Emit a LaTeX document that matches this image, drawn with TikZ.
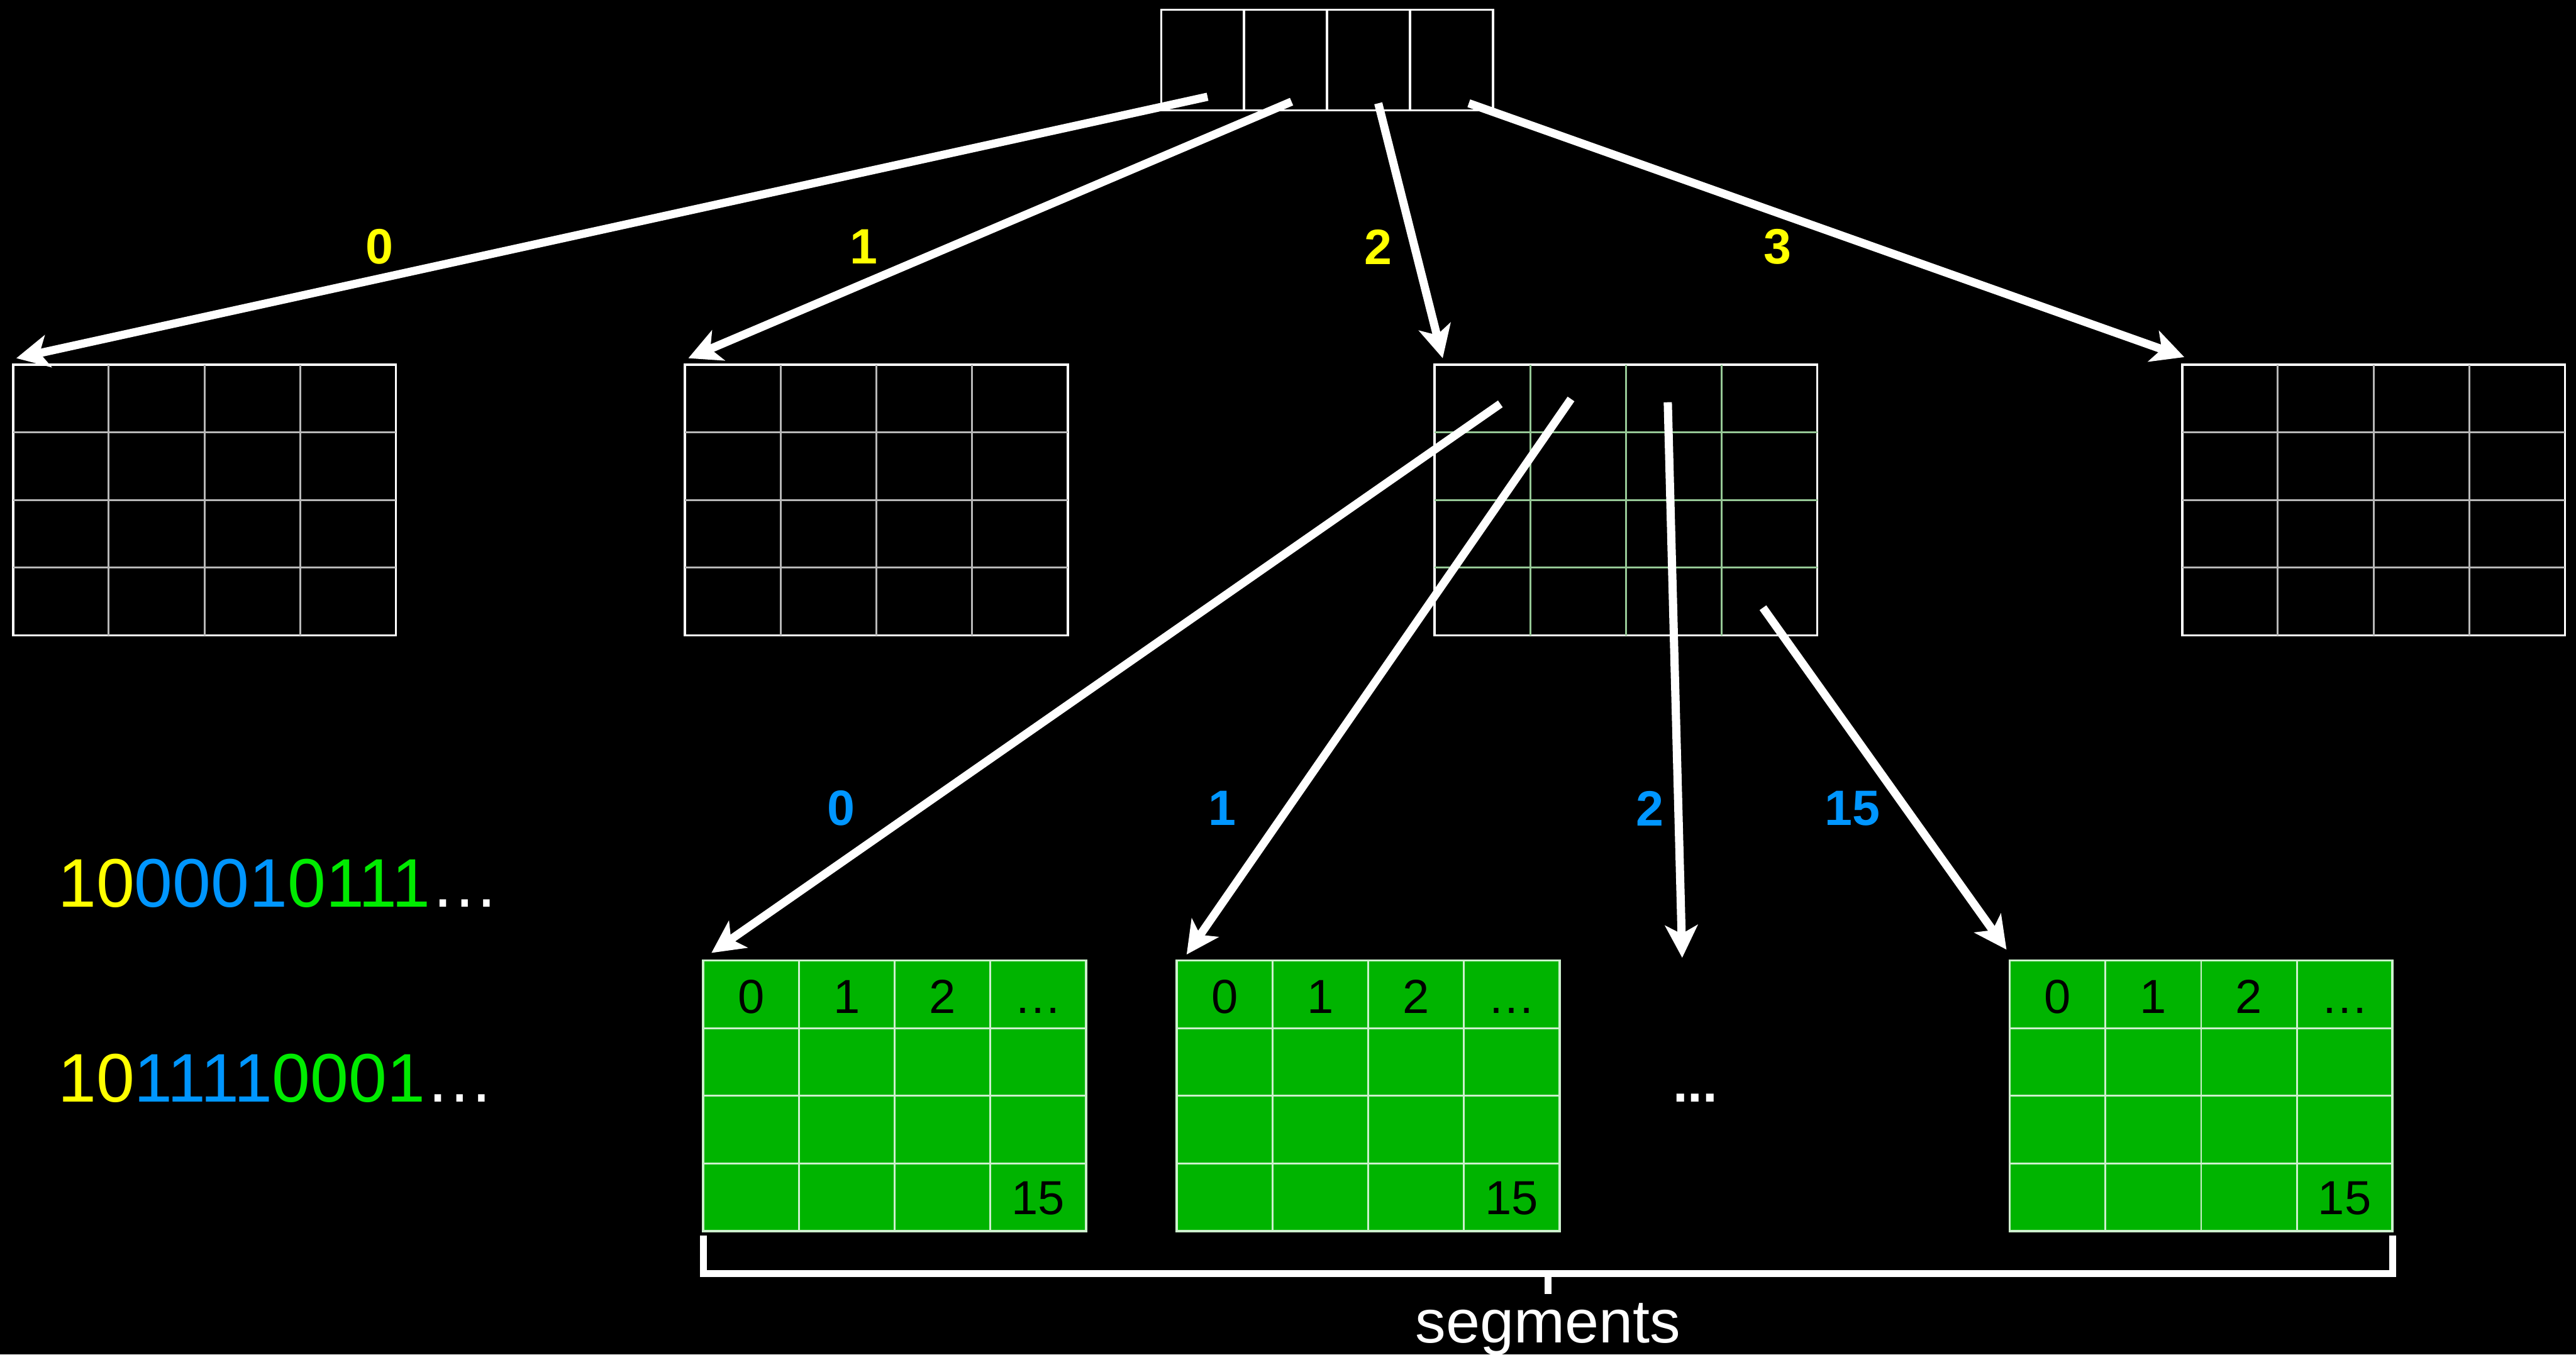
\documentclass[tikz,border=0pt]{standalone}
\usepackage{fontspec}
\setmainfont{Liberation Sans}
\usetikzlibrary{arrows.meta, positioning, calc}

\definecolor{keyyellow}{RGB}{255,255,0}
\definecolor{keyblue}{RGB}{0,150,255}
\definecolor{keygreen}{RGB}{0,235,0}
\definecolor{segfill}{RGB}{0,180,0}
\definecolor{segline}{RGB}{205,240,205}
\definecolor{dirline}{RGB}{150,200,150}

% inner lines of a 4x4 table node
\newcommand{\tablelines}[2]{%
  \foreach \i in {1,2,3} {
    \draw[#2] ($(#1.north west)!\i/4!(#1.north east)$) -- ($(#1.south west)!\i/4!(#1.south east)$);
    \draw[#2] ($(#1.north west)!\i/4!(#1.south west)$) -- ($(#1.north east)!\i/4!(#1.south east)$);
  }}

\begin{document}
\begin{tikzpicture}[node distance=1cm, >={Stealth[length=17pt,width=17pt,inset=4.5pt]}]
    \tikzstyle{cell} = [draw=white, line width=1.2pt, minimum width=1.525cm, minimum height=1.85cm, outer sep=0pt, inner sep=0pt]
    \tikzstyle{dirtable} = [draw=white, line width=1.2pt, minimum width=7.04cm, minimum height=4.98cm, outer sep=0pt, inner sep=0pt]
    \tikzstyle{segtable} = [dirtable, fill=segfill, draw=segline]
    \tikzstyle{line} = [draw=white, ->, line width=4.3pt]
    \tikzstyle{lvl1} = [text=keyyellow, font=\bfseries\fontsize{26}{30}\selectfont]
    \tikzstyle{lvl2} = [text=keyblue, font=\bfseries\fontsize{26}{30}\selectfont]
    \tikzstyle{celltext} = [anchor=base, font=\fontsize{25}{30}\selectfont]
    \tikzstyle{bits} = [anchor=base west, inner sep=0pt, font=\fontsize{36}{40}\selectfont]
    \tikzstyle{brace} = [draw=white, line width=3.7pt]

    \useasboundingbox (0,0) rectangle (47.38,-24.92);
    \fill[black] (0,0) rectangle (47.38,-24.92);

    % root directory
    \node [cell] (r0) at (22.12,-1.105) {};
    \node [cell, right=0pt of r0] (r1) {};
    \node [cell, right=0pt of r1] (r2) {};
    \node [cell, right=0pt of r2] (r3) {};

    % second level
    \node [dirtable, below=4.68cm of r0, xshift=-18.36cm] (gA) {};
    \node [dirtable, below=4.68cm of r0, xshift=-6.00cm] (gB) {};
    \node [dirtable, below=4.68cm of r3, xshift=3.21cm] (gC) {};
    \node [dirtable, below=4.68cm of r3, xshift=16.96cm] (gD) {};
    \tablelines{gA}{draw=white!72!black, line width=1pt}
    \tablelines{gB}{draw=white!72!black, line width=1pt}
    \tablelines{gC}{draw=dirline, line width=1pt}
    \tablelines{gD}{draw=white!72!black, line width=1pt}

    % segments
    \node [segtable, below=5.98cm of gC, xshift=-13.45cm] (s0) {};
    \node [segtable, below=5.98cm of gC, xshift=-4.74cm] (s1) {};
    \node [segtable, below=5.98cm of gC, xshift=10.58cm] (s15) {};
    \foreach \s in {s0,s1,s15} {
        \tablelines{\s}{draw=segline, line width=0.9pt}
        \node [celltext] (\s-0) at ($(\s.north west)+(0.88,-0.97)$) {0};
        \node [celltext] (\s-1) at ($(\s.north west)+(2.64,-0.97)$) {1};
        \node [celltext] (\s-2) at ($(\s.north west)+(4.40,-0.97)$) {2};
        \node [celltext] (\s-3) at ($(\s.north west)+(6.16,-0.97)$) {\dots};
        \node [celltext] (\s-15) at ($(\s.north west)+(6.16,-4.67)$) {15};
    }
    \node [anchor=base, text=white, font=\bfseries\fontsize{28}{32}\selectfont] (gap) at (31.18,-20.27) {...};
    \coordinate (more) at (30.94,-17.62);

    \draw [line] ([shift={(0.09,0.25)}]r0.south) -- ([shift={(0.06,0.12)}]gA.north west);
    \draw [line] ([shift={(0.11,0.16)}]r1.south) -- ([shift={(0.06,0.12)}]gB.north west);
    \draw [line] ([shift={(0.18,0.13)}]r2.south) -- ([shift={(0.15,0.12)}]gC.north west);
    \draw [line] ([shift={(0.32,0.13)}]r3.south) -- ([shift={(0.04,0.14)}]gD.north west);

    \draw [line] ([shift={(1.21,-0.72)}]gC.north west) -- ([shift={(0.15,0.14)}]s0.north west);
    \draw [line] ([shift={(2.51,-0.63)}]gC.north west) -- ([shift={(0.18,0.11)}]s1.north west);
    \draw [line] ([shift={(4.29,-0.69)}]gC.north west) -- (more);
    \draw [line] ([shift={(6.04,-4.47)}]gC.north west) -- ([shift={(-0.06,0.20)}]s15.north west);

    \node [lvl1] (k0) at (6.98,-4.54) {0};
    \node [lvl1] (k1) at (15.89,-4.54) {1};
    \node [lvl1] (k2) at (25.35,-4.54) {2};
    \node [lvl1] (k3) at (32.70,-4.54) {3};
    \node [lvl2] (b0) at (15.47,-14.87) {0};
    \node [lvl2] (b1) at (22.48,-14.87) {1};
    \node [lvl2] (b2) at (30.35,-14.87) {2};
    \node [lvl2] (b15) at (34.07,-14.87) {15};

    % example keys
    \node [bits] (bits1) at (1.06,-16.68) {\textcolor{keyyellow}{10}\textcolor{keyblue}{0001}\textcolor{keygreen}{0111}\textcolor{white}{\dots}};
    \node [bits] (bits2) at (1.06,-20.27) {\textcolor{keyyellow}{10}\textcolor{keyblue}{1111}\textcolor{keygreen}{0001}\textcolor{white}{\dots}};

    % bracket
    \draw [brace] ([yshift=-0.08cm]s0.south west) -- ++(0,-0.70) -| ([yshift=-0.08cm]s15.south east);
    \coordinate (segmid) at ($(s0.south west)!0.5!(s15.south east)+(0,-0.78)$);
    \draw [brace] (segmid) -- ++(0,-0.37);
    \node [anchor=base, text=white, font=\fontsize{32}{36}\selectfont] (seglabel) at ($(segmid)+(0,-1.27)$) {segments};
\end{tikzpicture}
\end{document}
